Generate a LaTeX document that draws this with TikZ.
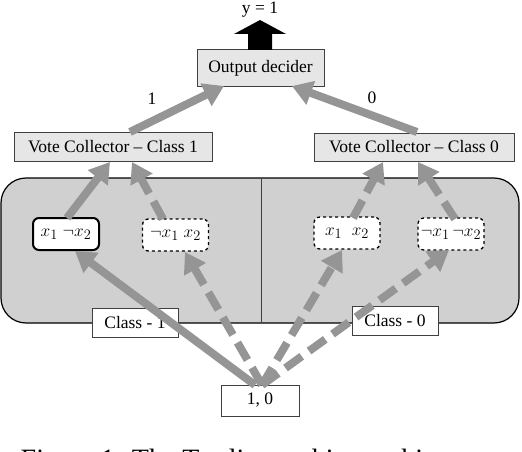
\documentclass[tikz,border=0pt]{standalone}
\usepackage{fontspec}
\setmainfont{Liberation Serif}
\usetikzlibrary{arrows.meta}
\definecolor{arrowgray}{HTML}{959595}
\definecolor{panelgray}{HTML}{D0D0D0}
\definecolor{boxgray}{HTML}{E6E6E6}
\definecolor{edgegray}{HTML}{404040}
\begin{document}
\begin{tikzpicture}[x=1pt,y=-1pt,
  lbl/.style={font=\fontsize{17.5}{20}\selectfont},
  gbox/.style={draw=edgegray, fill=boxgray, line width=1pt, inner sep=0pt, lbl},
  wbox/.style={draw=edgegray, fill=white, line width=1pt, inner sep=0pt, lbl},
  clause/.style={draw=black, fill=white, rounded corners=6pt, inner sep=0pt,
                 minimum width=66pt, minimum height=32pt, font=\fontsize{19}{22}\selectfont},
  garrow/.style={draw=arrowgray, line width=8pt, -{Triangle[length=20pt,width=24pt]}},
  darrow/.style={garrow, dash pattern=on 20pt off 9pt},
]
\useasboundingbox (0,0) rectangle (522,452);

% panel
\draw[fill=panelgray, draw=black, line width=1.2pt, rounded corners=25pt] (1,178) rectangle (519,323);
\draw[edgegray, line width=1pt] (261,178) -- (261,323);

% label boxes on the panel edge
\node[wbox, minimum width=86pt, minimum height=29pt] (c1) at (135,322.5) {Class - 1};
\node[wbox, minimum width=86pt, minimum height=29pt] (c0) at (395,320.5) {Class - 0};
\node[wbox, minimum width=78pt, minimum height=31pt] (in) at (260,400.5) {1, 0};

% clauses
\node[clause, line width=2pt] (a) at (66,234) {$x_1\ \neg x_2$};
\node[clause, line width=1.3pt, dashed] (b) at (175.5,235) {$\neg x_1\ x_2$};
\node[clause, line width=1.3pt, dashed] (c) at (347,233) {$x_1\ \ x_2$};
\node[clause, line width=1.3pt, dashed] (d) at (451,234) {$\neg x_1\,\neg x_2$};

% collectors and decider
\node[gbox, minimum width=198pt, minimum height=29pt] (v1) at (113,146.5) {Vote Collector -- Class 1};
\node[gbox, minimum width=200pt, minimum height=28pt] (v0) at (414,147) {Vote Collector -- Class 0};
\node[gbox, minimum width=127pt, minimum height=36pt] (od) at (260.5,68) {Output decider};

% output arrow
\fill[black] (248,50) -- (248,34) -- (234,34) -- (260,20) -- (286,34) -- (272,34) -- (272,50) -- cycle;
\node[lbl, inner sep=0pt] (y) at (260,9.5) {y = 1};

% coordinates for connector ends
\coordinate (inL) at (255,385);
\coordinate (inR) at (262,385);
\coordinate (aB) at (75,251);
\coordinate (bB) at (185,252);
\coordinate (cB) at (342,250);
\coordinate (dB) at (449,250);
\coordinate (aT) at (67,218);
\coordinate (bT) at (163,219);
\coordinate (cT) at (353,218);
\coordinate (dT) at (455,219);
\coordinate (v1a) at (110,162);
\coordinate (v1b) at (132,162);
\coordinate (v0a) at (383,162);
\coordinate (v0b) at (418,162);
\coordinate (v1T) at (130,132);
\coordinate (v0T) at (417,132);
\coordinate (odL) at (224,86);
\coordinate (odR) at (292,86);

% input to clauses
\draw[garrow] (inL) -- (aB);
\draw[darrow] (inR) -- (bB);
\draw[darrow] (inR) -- (cB);
\draw[darrow] (inR) -- (dB);

% clauses to collectors
\draw[garrow] (aT) -- (v1a);
\draw[darrow] (bT) -- (v1b);
\draw[darrow] (cT) -- (v0a);
\draw[darrow] (dT) -- (v0b);

% collectors to decider
\draw[garrow] (v1T) -- (odL);
\draw[garrow] (v0T) -- (odR);
\node[lbl, inner sep=0pt] (l1) at (152,99) {1};
\node[lbl, inner sep=0pt] (l0) at (372,98) {0};

% caption (cut off at the bottom edge, as in the reference)
\begin{scope}
\clip (0,0) rectangle (522,452);
\node[font=\fontsize{28}{32}\selectfont, inner sep=0pt, anchor=base] (cap) at (260,468) {Figure 1: The Tsetlin machine architecture};
\end{scope}
\end{tikzpicture}
\end{document}
